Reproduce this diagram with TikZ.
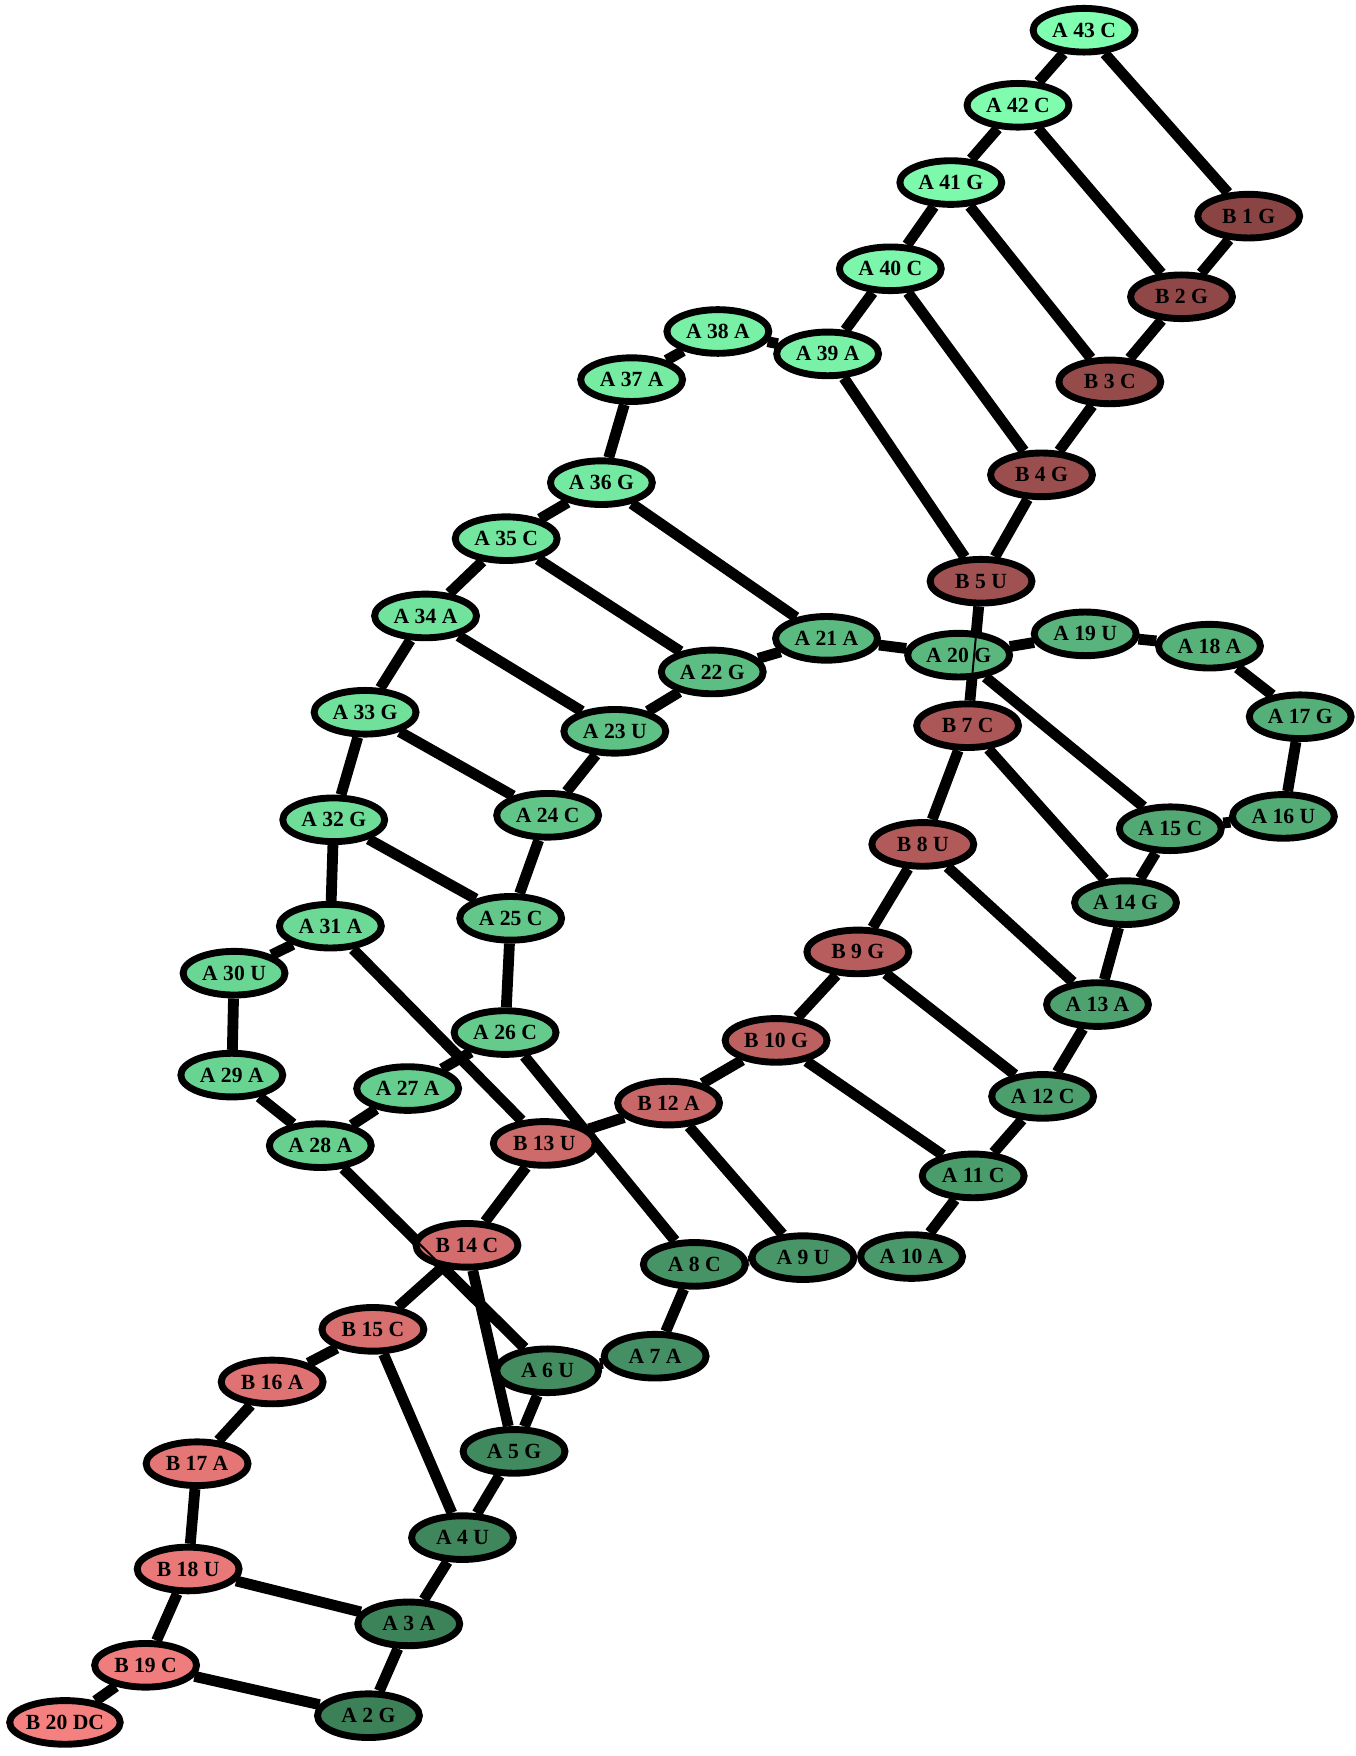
\documentclass[tikz,border=0pt]{standalone}
\usepackage{fontspec}
\setmainfont{Liberation Serif}
\usetikzlibrary{shapes.geometric, backgrounds}
\definecolor{Adark}{RGB}{60,128,88}
\definecolor{Alight}{RGB}{128,255,176}
\definecolor{Bdark}{RGB}{138,68,68}
\definecolor{Blight}{RGB}{245,128,128}
\tikzset{
  base/.style={ellipse, draw=black, line width=3.5pt, minimum width=1.82cm,
    minimum height=0.78cm, inner sep=0pt,
    font=\fontsize{11}{12}\selectfont\bfseries}, % every base
  anode/.style={base, fill=Alight!#1!Adark}, % strand A, #1 = shade
  bnode/.style={base, fill=Blight!#1!Bdark}, % strand B, #1 = shade
  link/.style={line width=5.5pt}, % thick connectors
  thinlink/.style={line width=1pt}, % seen through a node
}

\begin{document}
\begin{tikzpicture}[x=0.02cm, y=-0.02cm]
  \useasboundingbox (0,0) rectangle (1210,1568);

  % strand A
  \node[anode=0]   (a2)  at (329,1532) {A 2 G};
  \node[anode=2]   (a3)  at (365,1450) {A 3 A};
  \node[anode=5]   (a4)  at (413,1373) {A 4 U};
  \node[anode=7]   (a5)  at (459,1296) {A 5 G};
  \node[anode=10]  (a6)  at (489,1224) {A 6 U};
  \node[anode=12]  (a7)  at (585,1211) {A 7 A};
  \node[anode=15]  (a8)  at (620,1129) {A 8 C};
  \node[anode=17]  (a9)  at (717,1123) {A 9 U};
  \node[anode=20]  (a10) at (814,1122) {A 10 A};
  \node[anode=22]  (a11) at (869,1050) {A 11 C};
  \node[anode=24]  (a12) at (931,979)  {A 12 C};
  \node[anode=27]  (a13) at (980,897)  {A 13 A};
  \node[anode=29]  (a14) at (1005,806) {A 14 G};
  \node[anode=32]  (a15) at (1045,740) {A 15 C};
  \node[anode=34]  (a16) at (1146,729) {A 16 U};
  \node[anode=37]  (a17) at (1161,640) {A 17 G};
  \node[anode=39]  (a18) at (1080,577) {A 18 A};
  \node[anode=41]  (a19) at (969,566)  {A 19 U};
  \node[anode=44]  (a20) at (856,585)  {A 20 G};
  \node[anode=46]  (a21) at (738,570)  {A 21 A};
  \node[anode=49]  (a22) at (636,600)  {A 22 G};
  \node[anode=51]  (a23) at (549,653)  {A 23 U};
  \node[anode=54]  (a24) at (489,728)  {A 24 C};
  \node[anode=56]  (a25) at (456,820)  {A 25 C};
  \node[anode=59]  (a26) at (451,922)  {A 26 C};
  \node[anode=61]  (a27) at (364,972)  {A 27 A};
  \node[anode=63]  (a28) at (286,1023) {A 28 A};
  \node[anode=66]  (a29) at (207,960)  {A 29 A};
  \node[anode=68]  (a30) at (209,869)  {A 30 U};
  \node[anode=71]  (a31) at (295,827)  {A 31 A};
  \node[anode=73]  (a32) at (298,732)  {A 32 G};
  \node[anode=76]  (a33) at (326,636)  {A 33 G};
  \node[anode=78]  (a34) at (380,550)  {A 34 A};
  \node[anode=80]  (a35) at (452,481)  {A 35 C};
  \node[anode=83]  (a36) at (537,431)  {A 36 G};
  \node[anode=85]  (a37) at (564,339)  {A 37 A};
  \node[anode=88]  (a38) at (641,296)  {A 38 A};
  \node[anode=90]  (a39) at (739,316)  {A 39 A};
  \node[anode=93]  (a40) at (795,240)  {A 40 C};
  \node[anode=95]  (a41) at (849,163)  {A 41 G};
  \node[anode=98]  (a42) at (909,94)   {A 42 C};
  \node[anode=100] (a43) at (968,27)   {A 43 C};

  % strand B
  \node[bnode=0]   (b1)  at (1115,193) {B 1 G};
  \node[bnode=5]   (b2)  at (1055,265) {B 2 G};
  \node[bnode=11]  (b3)  at (991,341)  {B 3 C};
  \node[bnode=16]  (b4)  at (930,424)  {B 4 G};
  \node[bnode=21]  (b5)  at (876,519)  {B 5 U};
  \node[bnode=32]  (b7)  at (864,648)  {B 7 C};
  \node[bnode=37]  (b8)  at (824,754)  {B 8 U};
  \node[bnode=42]  (b9)  at (766,850)  {B 9 G};
  \node[bnode=47]  (b10) at (693,929)  {B 10 G};
  \node[bnode=58]  (b12) at (597,985)  {B 12 A};
  \node[bnode=63]  (b13) at (486,1021) {B 13 U};
  \node[bnode=68]  (b14) at (417,1112) {B 14 C};
  \node[bnode=74]  (b15) at (333,1187) {B 15 C};
  \node[bnode=79]  (b16) at (243,1234) {B 16 A};
  \node[bnode=84]  (b17) at (176,1307) {B 17 A};
  \node[bnode=89]  (b18) at (168,1401) {B 18 U};
  \node[bnode=95]  (b19) at (130,1487) {B 19 C};
  \node[bnode=100] (b20) at (58,1538)  {B 20 DC};

  \begin{pgfonlayer}{background}
    % backbones
    \foreach \i [evaluate=\i as \j using int(\i+1)] in {2,...,42}
      \draw[link] (a\i) -- (a\j);
    \draw[link] (b1) -- (b2) -- (b3) -- (b4) -- (b5) -- (b7) -- (b8) -- (b9)
      -- (b10) -- (b12) -- (b13) -- (b14) -- (b15) -- (b16) -- (b17)
      -- (b18) -- (b19) -- (b20);
    % pairs
    \draw[link] (a43) -- (b1)  (a42) -- (b2)  (a41) -- (b3)  (a40) -- (b4)
      (a39) -- (b5)  (a36) -- (a21)  (a35) -- (a22)  (a34) -- (a23)
      (a33) -- (a24)  (a32) -- (a25)  (a31) -- (b13)  (a26) -- (a8)
      (a28) -- (a6)  (b14) -- (a5)  (b15) -- (a4)  (b18) -- (a3)
      (b19) -- (a2)  (b12) -- (a9)  (b10) -- (a11)  (b9) -- (a12)
      (b8) -- (a13)  (b7) -- (a14)  (a20) -- (a15);
  \end{pgfonlayer}

  % seen through the nodes they cross
  \draw[thinlink] (b5) -- (b7);
  \draw[thinlink] (a28) -- (a6);
\end{tikzpicture}
\end{document}
